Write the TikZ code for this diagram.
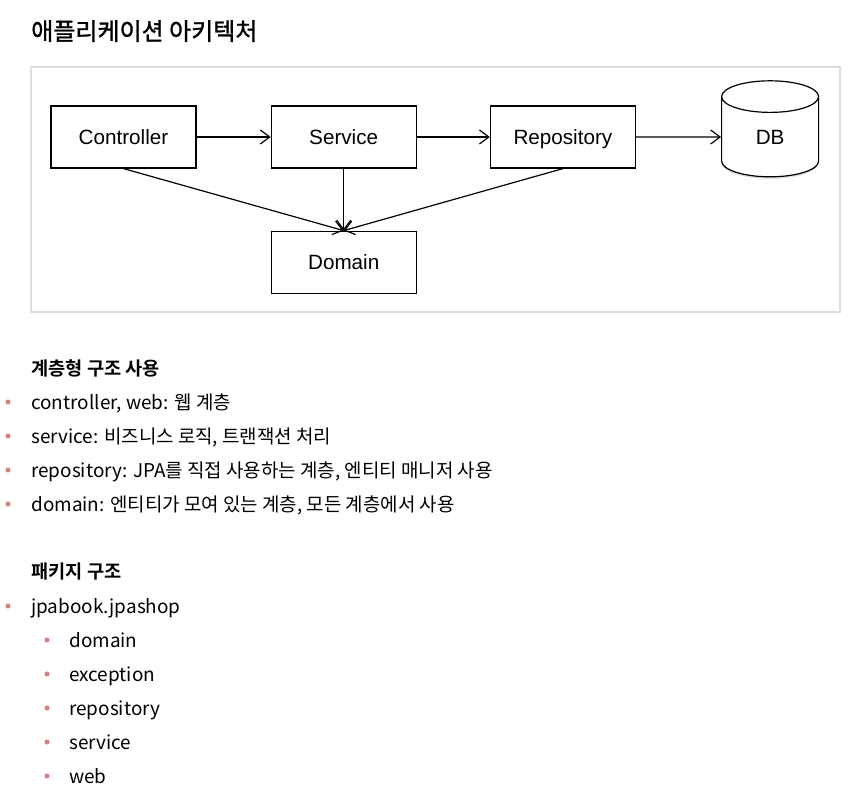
\documentclass[tikz,border=0pt]{standalone}
\usepackage{fontspec}
\setmainfont{Noto Sans CJK KR}[BoldFont={Noto Sans CJK KR Bold}]
\newfontfamily\titlefont{Noto Sans CJK KR}[FakeBold=1.2]
\newfontfamily\boxfont{Liberation Sans}
\usepackage{tikz}
\usetikzlibrary{shapes.geometric,arrows.meta,positioning,shadows}
\usepackage{xcolor}
\definecolor{frameGray}{RGB}{221,221,221}
\definecolor{dotRose}{RGB}{214,128,128}
\tikzset{
  layer/.style={rectangle, draw=black, line width=0.9pt, fill=white,
                minimum width=108.75pt, minimum height=46.5pt, inner sep=0pt,
                text height=14pt, text depth=3pt,
                align=center, font=\boxfont\fontsize{15.5}{18}\selectfont},
  store/.style={cylinder, shape border rotate=90, aspect=1.1, draw=black,
                line width=0.9pt, fill=white, minimum width=72.75pt,
                minimum height=72pt, inner sep=0pt,
                drop shadow={opacity=0.25, shadow xshift=0pt, shadow yshift=-1.5pt},
                font=\boxfont\fontsize{15.5}{18}\selectfont},
  flow/.style={-{Straight Barb[length=7pt, width=10.5pt]}, line width=0.9pt},
  headline/.style={anchor=base west, inner sep=0pt, font=\titlefont\fontsize{18}{21}\selectfont},
  heading/.style={anchor=base west, inner sep=0pt, font=\fontsize{14}{16}\selectfont\bfseries},
  entry/.style={anchor=base west, inner sep=0pt, font=\fontsize{14.2}{16}\selectfont},
  bulletdot/.style={fill=dotRose},
}

\begin{document}
\begin{tikzpicture}[x=0.75pt, y=-0.75pt]
  \useasboundingbox (0,0) rectangle (862,800);
  \node[headline] (title) at (31,40) {애플리케이션 아키텍처};
  \draw[frameGray, line width=1.5pt] (31,67) rectangle (840,312);

  % layers
  \node[layer] (ctrl) at (123.5,137) {Controller};
  \node[layer, right=55.5pt of ctrl] (svc) {Service};
  \node[layer, right=54.75pt of svc] (repo) {Repository};
  \node[store, right=63.75pt of repo] (db) {DB};
  \node[layer, below=46.5pt of svc] (dom) {Domain};
  \draw[flow] (ctrl) -- (svc);
  \draw[flow] (svc) -- (repo);
  \draw[flow] (repo) -- (db);
  \draw[flow] (ctrl.south) -- (dom.north);
  \draw[flow] (svc.south) -- (dom.north);
  \draw[flow] (repo.south) -- (dom.north);

  % layered structure
  \node[heading] (h1) at (31,375) {계층형 구조 사용};
  \node[entry] (e1) at (31,409) {controller, web: 웹 계층};
  \node[entry] (e2) at (31,443) {service: 비즈니스 로직, 트랜잭션 처리};
  \node[entry] (e3) at (31,477) {repository: JPA를 직접 사용하는 계층, 엔티티 매니저 사용};
  \node[entry] (e4) at (31,511) {domain: 엔티티가 모여 있는 계층, 모든 계층에서 사용};
  \foreach \yy in {402,436,470,504}
    \fill[bulletdot] (8,\yy) circle (1.9pt);

  % package structure
  \node[heading] (h2) at (31,578.5) {패키지 구조};
  \node[entry] (p0) at (31,613) {jpabook.jpashop};
  \fill[bulletdot] (8,606) circle (1.9pt);
  \foreach \name [count=\i] in {domain,exception,repository,service,web} {
    \node[entry] (p\i) at (69,613+34*\i) {\name};
    \fill[bulletdot] (47,606+34*\i) circle (1.9pt);
  }
\end{tikzpicture}
\end{document}
